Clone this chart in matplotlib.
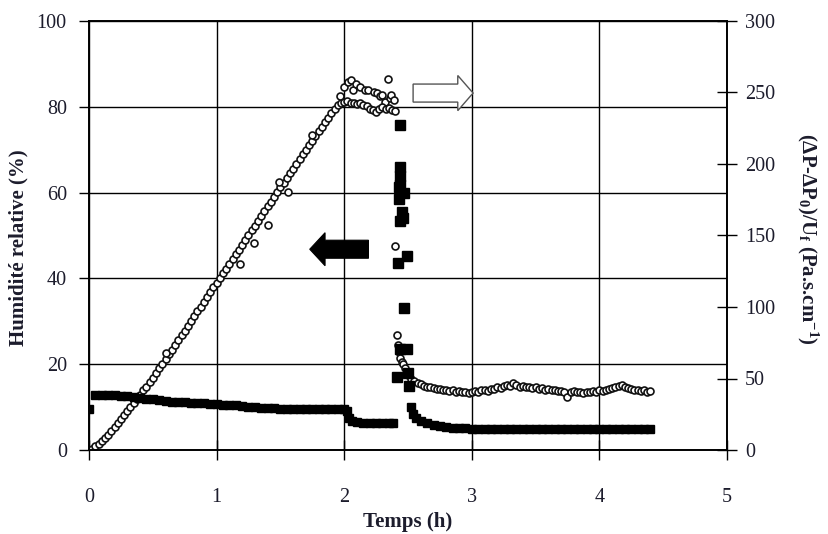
import numpy as np
import matplotlib
matplotlib.use("Agg")
import matplotlib.pyplot as plt
from matplotlib.patches import FancyArrow

plt.rcParams['font.family'] = ['Liberation Serif', 'DejaVu Serif']
plt.rcParams['mathtext.fontset'] = 'custom'
plt.rcParams['mathtext.rm'] = 'Liberation Serif:bold'
plt.rcParams['mathtext.bf'] = 'Liberation Serif:bold'
plt.rcParams['mathtext.it'] = 'Liberation Serif:bold'

# ---------------- data ----------------
# Relative humidity (%), open circles, left axis
rh_t_ramp = np.round(np.arange(0, 2.0001, 0.025), 3)
rh_ramp = [0.0, 0.2, 0.9, 1.5, 2.2, 2.8, 3.6, 4.4, 5.3, 6.2,
           7.2, 8.1, 9.1, 10.1, 11.0, 12.0, 12.9, 13.9, 14.8, 15.9,
           16.8, 17.9, 19.0, 20.1, 21.2, 22.3, 23.4, 24.5, 25.6, 26.7,
           27.8, 28.9, 30.0, 31.2, 32.3, 33.4, 34.5, 35.6, 36.8, 37.9,
           39.0, 40.1, 41.2, 42.3, 43.4, 44.5, 45.6, 46.7, 47.8, 49.0,
           50.1, 51.2, 52.3, 53.4, 54.5, 55.7, 56.8, 57.9, 59.0, 60.2,
           61.3, 62.3, 63.4, 64.5, 65.6, 66.7, 67.8, 68.9, 70.0, 71.0,
           72.1, 73.2, 74.3, 75.3, 76.4, 77.4, 78.5, 79.5, 80.5, 81.0,
           81.2]
rh_t_scatter = [0.60, 1.18, 1.29, 1.40, 1.49, 1.56, 1.75, 1.97,
                2.00, 2.03, 2.05, 2.07, 2.09, 2.12, 2.16, 2.19, 2.23, 2.26,
                2.28, 2.30, 2.32, 2.34, 2.36, 2.37, 2.39,
                2.025, 2.05, 2.075, 2.10, 2.125, 2.15, 2.175, 2.20, 2.225,
                2.25, 2.275, 2.30, 2.325, 2.35, 2.375, 2.40,
                2.40, 2.41, 2.42, 2.43, 2.44, 2.45, 2.46]
rh_scatter = [22.5, 43.4, 48.2, 52.4, 62.5, 60.2, 73.5, 82.5,
              84.6, 85.8, 86.2, 83.9, 85.2, 84.6, 84.0, 83.9, 83.4, 83.2,
              82.5, 82.8, 81.1, 86.5, 82.0, 82.8, 81.5,
              81.3, 80.8, 81.0, 80.6, 80.9, 80.4, 80.2, 79.6, 79.3,
              78.9, 79.5, 80.0, 79.4, 79.7, 79.2, 79.0,
              47.5, 26.8, 24.5, 22.8, 21.5, 20.5, 20.0]
rh_t_tail = np.round(np.arange(2.475, 4.4001, 0.025), 3)
rh_tail = [19.0, 17.5, 16.6, 16.0, 15.6, 15.3, 15.0, 14.8, 14.6, 14.5,
           14.3, 14.2, 14.0, 14.1, 13.8, 13.9, 13.6, 13.7, 13.5, 13.6,
           13.4, 13.6, 13.8, 13.6, 13.9, 14.0, 13.8, 14.2, 14.3, 14.6,
           14.5, 14.9, 15.2, 15.0, 15.6, 15.1, 14.7, 14.9, 14.6, 14.8,
           14.5, 14.6, 14.3, 14.4, 14.1, 14.2, 13.9, 14.0, 13.7, 13.8,
           13.6, 12.3, 13.5, 13.7, 13.5, 13.6, 13.4, 13.6, 13.5, 13.8,
           13.6, 13.9, 13.7, 14.1, 14.3, 14.5, 14.6, 14.9, 15.1, 14.8,
           14.5, 14.2, 14.0, 13.9, 13.7, 13.9, 13.6, 13.8]

# (dP - dP0)/Uf (Pa.s.cm-1), filled squares, right axis
dp_t_1 = [0.0, 0.05, 0.10, 0.15, 0.20, 0.25, 0.30, 0.35, 0.40, 0.45,
          0.50, 0.55, 0.60, 0.65, 0.70, 0.75, 0.80, 0.85, 0.90, 0.95,
          1.00, 1.05, 1.10, 1.15, 1.20, 1.25, 1.30, 1.35, 1.40, 1.45,
          1.50, 1.55, 1.60, 1.65, 1.70, 1.75, 1.80, 1.85, 1.90, 1.95,
          2.00, 2.02, 2.04, 2.06, 2.10, 2.15, 2.20, 2.25, 2.30, 2.35, 2.38]
dp_1 = [29.0, 38.7, 38.7, 38.7, 38.4, 37.8, 37.5, 36.9, 36.3, 36.0,
        35.4, 34.8, 34.2, 33.9, 33.6, 33.3, 33.0, 33.0, 32.7, 32.4,
        32.1, 31.8, 31.5, 31.2, 30.6, 30.3, 30.0, 29.7, 29.4, 29.1,
        28.8, 28.8, 28.5, 28.5, 28.5, 28.5, 28.5, 28.5, 28.5, 28.5,
        28.5, 27.0, 22.5, 20.1, 19.5, 19.2, 19.2, 19.2, 19.2, 19.2, 19.2]
dp_t_spike = [2.44, 2.435, 2.435, 2.44, 2.43, 2.47, 2.43, 2.45, 2.46, 2.44,
              2.49, 2.42, 2.47, 2.44, 2.49, 2.41, 2.50, 2.51]
dp_spike = [227.4, 197.6, 191.8, 185.5, 184.0, 180.0, 175.5, 166.5, 162.0, 160.2,
            136.0, 130.5, 99.0, 70.5, 70.5, 51.0, 54.0, 45.0]
dp_t_2 = [2.52, 2.54, 2.56, 2.60, 2.65, 2.70, 2.75, 2.80, 2.85, 2.90,
          2.95, 3.00, 3.05, 3.10, 3.15, 3.20, 3.25, 3.30, 3.35, 3.40,
          3.45, 3.50, 3.55, 3.60, 3.65, 3.70, 3.75, 3.80, 3.85, 3.90,
          3.95, 4.00, 4.05, 4.10, 4.15, 4.20, 4.25, 4.30, 4.35, 4.40]
dp_2 = [30.0, 25.0, 22.5, 20.4, 18.9, 17.4, 16.5, 15.9, 15.6, 15.3,
        15.2, 15.0, 15.0, 15.0, 15.0, 15.0, 15.0, 15.0, 15.0, 15.0,
        15.0, 15.0, 15.0, 15.0, 15.0, 15.0, 15.0, 15.0, 15.0, 15.0,
        15.0, 15.0, 15.0, 15.0, 15.0, 15.0, 15.0, 15.0, 15.0, 15.0]

x_ticks = [0, 1, 2, 3, 4, 5]
left_ticks = [0, 20, 40, 60, 80, 100]
right_ticks = [0, 50, 100, 150, 200, 250, 300]

# ---------------- figure ----------------
W, H = 829, 534
fig = plt.figure(figsize=(W / 100, H / 100), dpi=100)
ax = fig.add_axes([89 / W, 1 - 450 / H, (727 - 89) / W, (450 - 21) / H])
ax2 = ax.twinx()

tick_col = '#1c1c2c'
ax.set_xlim(0, 5)
ax.set_ylim(0, 100)
ax2.set_ylim(0, 300)
ax.set_xticks(x_ticks)
ax.set_yticks(left_ticks)
ax2.set_yticks(right_ticks)
ax.grid(True, color='black', lw=1.0)
ax.set_axisbelow(True)

for a in (ax, ax2):
    for s in a.spines.values():
        s.set_color('black')
        s.set_linewidth(1.2)
ax.tick_params(axis='y', direction='out', length=7, width=1.0, pad=9,
               labelsize=14.5, labelcolor=tick_col)
ax.tick_params(axis='x', direction='inout', length=14, width=1.0, pad=20,
               labelsize=14.5, labelcolor=tick_col)
ax2.tick_params(axis='y', direction='inout', length=14, width=1.0, pad=6,
                labelsize=14.5, labelcolor=tick_col)

# humidity (circles)
circ = dict(ls='none', marker='o', ms=5.0, mfc='white', mec='#111111', mew=1.2)
ax.plot(rh_t_ramp, rh_ramp, **circ)
ax.plot(rh_t_scatter, rh_scatter, **circ)
ax.plot(rh_t_tail, rh_tail, **circ)

# pressure drop (squares)
ax2.plot(dp_t_1[1:], dp_1[1:], ls='-', lw=4.5, color='black', solid_capstyle='butt',
         marker='s', ms=6.3, mfc='black', mec='black')
ax2.plot(dp_t_1[:1], dp_1[:1], ls='none', marker='s', ms=6.3, mfc='black', mec='black')
ax2.plot(dp_t_spike, dp_spike, ls='none', marker='s', ms=7.5, mfc='black', mec='black')
ax2.plot(dp_t_2, dp_2, ls='-', lw=4.5, color='black', solid_capstyle='butt',
         marker='s', ms=6.3, mfc='black', mec='black')

# arrows
ax.add_patch(FancyArrow(2.19, 46.8, -0.46, 0, width=4.2, head_width=7.7,
                        head_length=0.12, length_includes_head=True,
                        fc='black', ec='black', lw=0.8, zorder=5))
ax.add_patch(FancyArrow(2.54, 83.2, 0.47, 0, width=4.2, head_width=8.2,
                        head_length=0.12, length_includes_head=True,
                        fc='white', ec='#555555', lw=1.0, zorder=5))

# labels
fig.text(18 / W, 1 - 247.5 / H, 'Humidité relative (%)', rotation=90,
         ha='center', va='center', fontsize=15, fontweight='bold', color=tick_col)
fig.text(808 / W, 1 - 239 / H,
         r'(ΔP-ΔP$_{\mathbf{0}}$)/U$_{\mathbf{f}}$ (Pa.s.cm$^{\mathbf{-1}}$)',
         rotation=270, ha='center', va='center', fontsize=15,
         fontweight='bold', color=tick_col)
fig.text(408 / W, 1 - 522 / H, 'Temps (h)', ha='center', va='center',
         fontsize=15, fontweight='bold', color=tick_col)

fig.savefig('out.png', dpi=100)
